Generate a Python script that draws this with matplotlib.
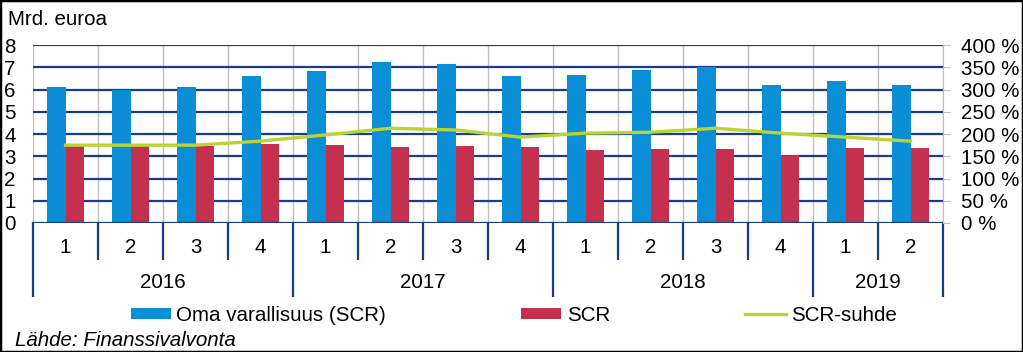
import numpy as np
import matplotlib.pyplot as plt
from matplotlib.patches import Rectangle
import matplotlib.transforms as mtransforms

plt.rcParams['font.family'] = ['Liberation Sans', 'DejaVu Sans']

quarters = ['1', '2', '3', '4', '1', '2', '3', '4', '1', '2', '3', '4', '1', '2']
years = ['2016', '2017', '2018', '2019']
year_len = [4, 4, 4, 2]

oma = [6.1, 6.0, 6.1, 6.6, 6.85, 7.25, 7.15, 6.6, 6.65, 6.9, 7.0, 6.2, 6.4, 6.2]
scr = [3.45, 3.45, 3.45, 3.55, 3.5, 3.4, 3.45, 3.4, 3.28, 3.33, 3.33, 3.05, 3.37, 3.37]
suhde = [175, 175, 175, 184, 198, 213, 209, 193, 202, 204, 213, 202, 193, 184]

blue = '#0A8ED6'
red = '#C5304F'
green = '#BAD434'
navy = '#1A3C8C'
grey = '#C0C0C0'

fs = 14.8

fig = plt.figure(figsize=(10.23, 3.52), dpi=100)
ax = fig.add_axes([0.0323, 0.3665, 0.8895, 0.5055])
ax2 = ax.twinx()

x = np.arange(len(oma))
w = 0.28
b1 = ax.bar(x - w / 2, oma, w, color=blue, zorder=3, label='Oma varallisuus (SCR)')
b2 = ax.bar(x + w / 2, scr, w, color=red, zorder=3, label='SCR')
l1, = ax2.plot(x, suhde, color=green, lw=2.4, label='SCR-suhde')

ax.set_xlim(-0.5, len(oma) - 0.5)
ax.set_ylim(0, 8)
ax2.set_ylim(0, 400)
ax.set_yticks(range(9))
ax2.set_yticks(range(0, 401, 50))
ax2.set_yticklabels([f'{v} %' for v in range(0, 401, 50)])

ax.set_axisbelow(True)
for v in range(1, 9):
    ax.axhline(v, color=navy, lw=1.6, zorder=1)
for b in np.arange(-0.5, len(oma), 1.0):
    ax.axvline(b, color=grey, lw=1.0, zorder=0.5)

for a in (ax, ax2):
    for s in ['top', 'left', 'right', 'bottom']:
        a.spines[s].set_visible(False)
ax.axhline(0, color=navy, lw=1.6, zorder=4)
ax2.spines['right'].set_visible(True)
ax2.spines['right'].set_color(grey)

ax.set_xticks([])
ax.tick_params(axis='y', length=0, pad=12.5, labelsize=fs)
ax2.tick_params(axis='y', length=5, color=grey, pad=8, labelsize=fs)

# category table below the axis
trans = mtransforms.blended_transform_factory(ax.transData, ax.transAxes)
year_edges = list(np.cumsum([0] + year_len) - 0.5)
for b in np.arange(-0.5, len(oma), 1.0):
    bottom = -0.41 if b in year_edges else -0.205
    ax.plot([b, b], [0, bottom], color=navy, lw=1.6, transform=trans, clip_on=False)
for i, q in enumerate(quarters):
    ax.text(i, -0.135, q, transform=trans, ha='center', va='center', fontsize=fs)
for k, yr in enumerate(years):
    c = (year_edges[k] + year_edges[k + 1]) / 2
    ax.text(c, -0.335, yr, transform=trans, ha='center', va='center', fontsize=fs)

fig.text(0.008, 0.945, 'Mrd. euroa', fontsize=fs, va='center', ha='left')

fig.legend([b1, b2, l1], ['Oma varallisuus (SCR)', 'SCR', 'SCR-suhde'],
           loc='center', bbox_to_anchor=(0.502, 0.105), ncol=3, frameon=False,
           fontsize=fs, handlelength=1.95, handleheight=0.48, handletextpad=0.25,
           columnspacing=6.6, borderpad=0)

fig.text(0.015, 0.033, 'Lähde: Finanssivalvonta', fontsize=fs, style='italic',
         va='center', ha='left')

fig.patches.append(Rectangle((0, 0), 1, 1, transform=fig.transFigure, fill=False,
                             edgecolor='black', lw=2.5))

fig.savefig('out.png', dpi=100)
